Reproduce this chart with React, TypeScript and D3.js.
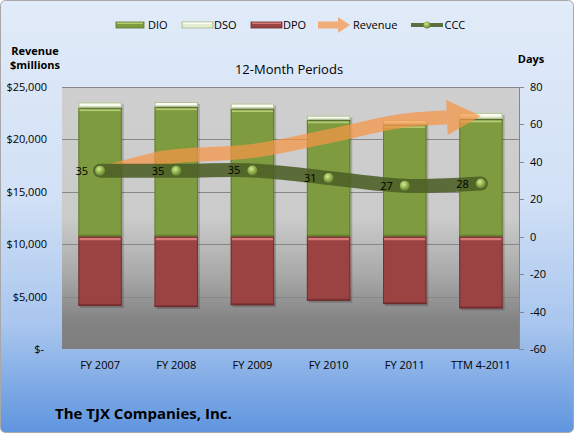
import React, { useRef, useEffect } from 'react';
import * as d3 from 'd3';

// chart data (days on right axis, revenue in $ millions on left axis)
const categories = ['FY 2007', 'FY 2008', 'FY 2009', 'FY 2010', 'FY 2011', 'TTM 4-2011'];
const dio = [69, 69.5, 68.5, 62.5, 60, 63];
const dso = [2.8, 2.5, 2.7, 2.2, 2.5, 3.2];
const dpo = [37, 37.6, 36.6, 34.2, 36, 38.3];
const ccc = [35.3, 35.2, 35.4, 31.4, 27.2, 28.4];
const revenue = [17400, 18400, 18900, 20300, 21800, 22200];
const revenueTicks = [0, 5000, 10000, 15000, 20000, 25000];
const dayTicks = [-60, -40, -20, 0, 20, 40, 60, 80];

const FONT = "'Open Sans', 'Noto Sans', sans-serif";

export default function App() {
  const svgRef = useRef<SVGSVGElement>(null);

  useEffect(() => {
    if (!svgRef.current) return;
    document.body.style.margin = '0';

    const width = 574;
    const height = 433;
    const margins = { top: 87, bottom: 84, left: 62, right: 55 };
    const x0 = margins.left;
    const x1 = width - margins.right;
    const y0 = margins.top;
    const y1 = height - margins.bottom;

    const svg = d3.select(svgRef.current)
      .attr('width', width)
      .attr('height', height);
    svg.selectAll('*').remove();

    //gradients
    const defs = svg.append('defs');
    const bg = defs.append('linearGradient').attr('id', 'bg').attr('x1', 0).attr('x2', 0).attr('y1', 0).attr('y2', 1);
    [['0', '#e1ebf9'], ['0.45', '#d2e1f6'], ['0.75', '#a9c6ee'], ['1', '#5f95de']].forEach(([o, c]) =>
      bg.append('stop').attr('offset', o).attr('stop-color', c));
    const pg = defs.append('linearGradient').attr('id', 'plotbg').attr('x1', 0).attr('x2', 0).attr('y1', 0).attr('y2', 1);
    [['0', '#cfcfcf'], ['0.5', '#cbcbcb'], ['0.72', '#a8a8a8'], ['0.9', '#828282'], ['1', '#7f7f7f']].forEach(([o, c]) =>
      pg.append('stop').attr('offset', o).attr('stop-color', c));
    const mk = defs.append('radialGradient').attr('id', 'marker').attr('cx', 0.4).attr('cy', 0.35).attr('r', 0.7);
    [['0', '#d4eb92'], ['0.5', '#93b450'], ['1', '#5f7a2a']].forEach(([o, c]) =>
      mk.append('stop').attr('offset', o).attr('stop-color', c));

    //background
    svg.append('rect')
      .attr('x', 0.5).attr('y', 0.5)
      .attr('width', width - 1).attr('height', height - 1)
      .attr('rx', 5)
      .attr('fill', 'url(#bg)')
      .attr('stroke', '#a8a8a8');

    svg.append('rect')
      .attr('x', x0).attr('y', y0)
      .attr('width', x1 - x0).attr('height', y1 - y0)
      .attr('fill', 'url(#plotbg)');

    //scales
    const xScale = d3.scaleBand<string>()
      .domain(categories)
      .range([x0, x1])
      .paddingInner(0.43)
      .paddingOuter(0.215);
    const yRev = d3.scaleLinear().domain([0, 25000]).range([y1, y0]);
    const yDays = d3.scaleLinear().domain([-60, 80]).range([y1, y0]);
    const cx = (i: number) => xScale(categories[i])! + xScale.bandwidth() / 2;

    //grid lines
    svg.append('g').selectAll('line')
      .data(revenueTicks.filter(d => d > 0))
      .join('line')
      .attr('x1', x0).attr('x2', x1)
      .attr('y1', d => Math.round(yRev(d)) + 0.5)
      .attr('y2', d => Math.round(yRev(d)) + 0.5)
      .attr('stroke', '#878787')
      .attr('stroke-width', 1);

    //left axis
    svg.append('g').selectAll('text')
      .data(revenueTicks)
      .join('text')
      .attr('x', d => (d === 0 ? 44 : 47))
      .attr('y', d => yRev(d) + 4)
      .attr('text-anchor', 'end')
      .attr('font-family', FONT)
      .attr('font-size', 11)
      .attr('fill', '#000')
      .text(d => (d === 0 ? '$-' : d3.format('$,')(d)));

    //right axis
    const right = svg.append('g');
    right.append('line')
      .attr('x1', x1 + 0.5).attr('x2', x1 + 0.5)
      .attr('y1', y0).attr('y2', y1)
      .attr('stroke', '#868686');
    right.selectAll('line.tick')
      .data(dayTicks)
      .join('line')
      .attr('class', 'tick')
      .attr('x1', x1).attr('x2', x1 + 5)
      .attr('y1', d => Math.round(yDays(d)) + 0.5)
      .attr('y2', d => Math.round(yDays(d)) + 0.5)
      .attr('stroke', '#868686');
    right.selectAll('text')
      .data(dayTicks)
      .join('text')
      .attr('x', 530)
      .attr('y', d => yDays(d) + 4)
      .attr('font-family', FONT)
      .attr('font-size', 11)
      .attr('fill', '#000')
      .text(d => String(d));

    //category labels
    svg.append('g').selectAll('text')
      .data(categories)
      .join('text')
      .attr('x', (_, i) => cx(i))
      .attr('y', 369)
      .attr('text-anchor', 'middle')
      .attr('font-family', FONT)
      .attr('font-size', 11)
      .attr('fill', '#000')
      .text(d => d);

    //bars
    const palette: Record<string, { body: string; hi: string; edge: string }> = {
      dio: { body: '#7f9b3f', hi: '#b2cc72', edge: '#5b7528' },
      dso: { body: '#e4edd2', hi: '#fbfdf3', edge: '#a4b486' },
      dpo: { body: '#9b4343', hi: '#d57a78', edge: '#6a2a2a' },
    };
    const barG = svg.append('g');
    categories.forEach((c, i) => {
      const bx = xScale(c)!;
      const bw = xScale.bandwidth();
      const segs = [
        { from: 0, to: dio[i], kind: 'dio' },
        { from: dio[i], to: dio[i] + dso[i], kind: 'dso' },
        { from: -dpo[i], to: 0, kind: 'dpo' },
      ];
      segs.forEach(s => {
        const top = yDays(s.to);
        const h = yDays(s.from) - top;
        const p = palette[s.kind];
        barG.append('rect')
          .attr('x', bx + 2).attr('y', top + 2)
          .attr('width', bw).attr('height', h)
          .attr('fill', '#000').attr('opacity', 0.18);
        barG.append('rect')
          .attr('x', bx).attr('y', top)
          .attr('width', bw).attr('height', h)
          .attr('fill', p.body);
        barG.append('rect')
          .attr('x', bx + 1).attr('y', top + 1)
          .attr('width', bw - 2).attr('height', Math.min(2.5, h / 2))
          .attr('fill', p.hi);
        if (h > 6) {
          barG.append('rect')
            .attr('x', bx).attr('y', top + h - 2)
            .attr('width', bw).attr('height', 2)
            .attr('fill', p.edge).attr('opacity', 0.6);
        }
        barG.append('rect')
          .attr('x', bx + 0.5).attr('y', top + 0.5)
          .attr('width', bw - 1).attr('height', Math.max(0, h - 1))
          .attr('fill', 'none')
          .attr('stroke', p.edge)
          .attr('stroke-opacity', 0.8)
          .attr('stroke-width', 1);
      });
    });

    //revenue arrow: tapered thick line with an arrow head
    const revLine = d3.line<number>()
      .x((_, i) => cx(i))
      .y(d => yRev(d))
      .curve(d3.curveCatmullRom);
    const tmp = svg.append('path').attr('d', revLine(revenue)).attr('fill', 'none');
    const node = tmp.node() as SVGPathElement;
    const L = node.getTotalLength();
    const headLen = 34;
    const headHalf = 17.5;
    const bodyHalf = 7;
    const taper = 60;
    const bodyEnd = L - headLen;
    const at = (s: number) => {
      const p = node.getPointAtLength(Math.max(0, Math.min(L, s)));
      const a = node.getPointAtLength(Math.max(0, s - 0.5));
      const b = node.getPointAtLength(Math.min(L, s + 0.5));
      const dx = b.x - a.x;
      const dy = b.y - a.y;
      const len = Math.hypot(dx, dy) || 1;
      return { x: p.x, y: p.y, nx: -dy / len, ny: dx / len, tx: dx / len, ty: dy / len };
    };
    const leftSide: [number, number][] = [];
    const rightSide: [number, number][] = [];
    for (let s = 0; s <= bodyEnd; s += 2) {
      const q = at(s);
      const w = bodyHalf * Math.min(1, s / taper);
      leftSide.push([q.x + q.nx * w, q.y + q.ny * w]);
      rightSide.push([q.x - q.nx * w, q.y - q.ny * w]);
    }
    const qb = at(bodyEnd);
    leftSide.push([qb.x + qb.nx * bodyHalf, qb.y + qb.ny * bodyHalf]);
    rightSide.push([qb.x - qb.nx * bodyHalf, qb.y - qb.ny * bodyHalf]);
    tmp.remove();

    const revG = svg.append('g').attr('opacity', 0.72);
    revG.append('path')
      .attr('d', 'M' + leftSide.concat(rightSide.reverse()).map(p => p.join(',')).join('L') + 'Z')
      .attr('fill', '#f79646');
    revG.append('path')
      .attr('d', `M${qb.x + qb.nx * headHalf},${qb.y + qb.ny * headHalf}` +
        `L${qb.x + qb.tx * headLen},${qb.y + qb.ty * headLen}` +
        `L${qb.x - qb.nx * headHalf},${qb.y - qb.ny * headHalf}` +
        `L${qb.x - qb.nx * (bodyHalf - 0.5)},${qb.y - qb.ny * (bodyHalf - 0.5)}` +
        `L${qb.x + qb.nx * (bodyHalf - 0.5)},${qb.y + qb.ny * (bodyHalf - 0.5)}Z`)
      .attr('fill', '#f79646');

    //CCC line
    const cccLine = d3.line<number>()
      .x((_, i) => cx(i))
      .y(d => yDays(d))
      .curve(d3.curveCatmullRom);
    svg.append('path')
      .datum(ccc)
      .attr('d', cccLine)
      .attr('fill', 'none')
      .attr('stroke', '#4b5e25')
      .attr('stroke-width', 14)
      .attr('stroke-linecap', 'round')
      .attr('opacity', 0.88);

    svg.append('g').selectAll('circle')
      .data(ccc)
      .join('circle')
      .attr('cx', (_, i) => cx(i))
      .attr('cy', d => yDays(d))
      .attr('r', 5)
      .attr('fill', 'url(#marker)');

    svg.append('g').selectAll('text')
      .data(ccc)
      .join('text')
      .attr('x', (_, i) => cx(i) - 12)
      .attr('y', d => yDays(d) + 4)
      .attr('text-anchor', 'end')
      .attr('font-family', FONT)
      .attr('font-size', 11)
      .attr('fill', '#000')
      .text(d => String(Math.round(d)));

    //titles
    svg.append('text')
      .attr('x', 289).attr('y', 74)
      .attr('text-anchor', 'middle')
      .attr('font-family', FONT)
      .attr('font-size', 13)
      .text('12-Month Periods');
    const revTitle = svg.append('text')
      .attr('text-anchor', 'middle')
      .attr('font-family', FONT)
      .attr('font-size', 11)
      .attr('font-weight', 'bold');
    revTitle.append('tspan').attr('x', 35).attr('y', 55).text('Revenue');
    revTitle.append('tspan').attr('x', 35).attr('y', 69).text('$millions');
    svg.append('text')
      .attr('x', 531).attr('y', 63)
      .attr('text-anchor', 'middle')
      .attr('font-family', FONT)
      .attr('font-size', 11)
      .attr('font-weight', 'bold')
      .text('Days');
    svg.append('text')
      .attr('x', 55).attr('y', 419)
      .attr('font-family', FONT)
      .attr('font-size', 15)
      .attr('font-weight', 'bold')
      .attr('fill', '#000')
      .text('The TJX Companies, Inc.');

    //legend
    const lg = svg.append('g').attr('font-family', FONT).attr('font-size', 11);
    const ly = 25;
    const swatches = [
      { x: 116, w: 28, kind: 'dio', label: 'DIO', tx: 148 },
      { x: 182, w: 31, kind: 'dso', label: 'DSO', tx: 214 },
      { x: 251, w: 31, kind: 'dpo', label: 'DPO', tx: 283 },
    ];
    swatches.forEach(s => {
      const p = palette[s.kind];
      lg.append('rect').attr('x', s.x).attr('y', ly - 3).attr('width', s.w).attr('height', 6)
        .attr('fill', p.body).attr('stroke', p.edge).attr('stroke-width', 0.8);
      lg.append('rect').attr('x', s.x + 1).attr('y', ly - 2.5).attr('width', s.w - 2).attr('height', 1.5)
        .attr('fill', p.hi);
      lg.append('text').attr('x', s.tx).attr('y', ly + 4).text(s.label);
    });
    lg.append('path')
      .attr('d', `M318,${ly - 3.5}L338,${ly - 3.5}L338,${ly - 8}L350,${ly}L338,${ly + 8}L338,${ly + 3.5}L318,${ly + 3.5}Z`)
      .attr('fill', '#f79646').attr('opacity', 0.72);
    lg.append('text').attr('x', 353).attr('y', ly + 4).text('Revenue');
    lg.append('line').attr('x1', 411).attr('x2', 443).attr('y1', ly).attr('y2', ly)
      .attr('stroke', '#4b5e25').attr('stroke-width', 4).attr('opacity', 0.88);
    lg.append('circle').attr('cx', 427).attr('cy', ly).attr('r', 3.5).attr('fill', 'url(#marker)');
    lg.append('text').attr('x', 444.5).attr('y', ly + 4).text('CCC');
  }, []);

  return <svg ref={svgRef} style={{ display: 'block' }} />;
}
